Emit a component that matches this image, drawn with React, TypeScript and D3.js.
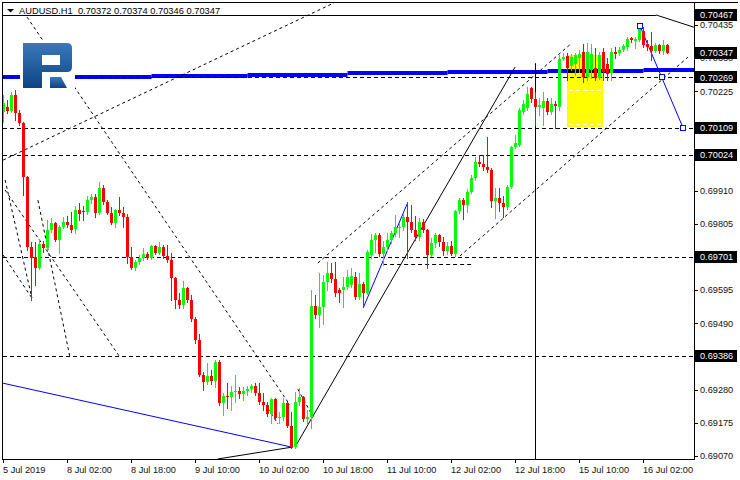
import { useEffect, useRef } from "react";
import * as d3 from "d3";

// AUDUSD H1 candles, prices in points (1 point = 0.00001)
const opens = [
  70159, 70175, 70162, 70213, 70156, 70124, 69953, 69731, 69699, 69665,
  69741, 69728, 69785, 69807, 69753, 69794, 69810, 69801, 69788, 69848,
  69845, 69842, 69880, 69890, 69839, 69918, 69874, 69839, 69807, 69848,
  69839, 69826, 69699, 69665, 69684, 69696, 69709, 69696, 69734, 69712,
  69731, 69703, 69690, 69633, 69563, 69547, 69601, 69563, 69503, 69436,
  69325, 69303, 69322, 69306, 69367, 69237, 69259, 69256, 69272, 69275,
  69266, 69275, 69281, 69291, 69269, 69240, 69231, 69202, 69250, 69190,
  69193, 69237, 69165, 69098, 69240, 69256, 69187, 69193, 69544, 69516,
  69541, 69620, 69649, 69630, 69595, 69595, 69604, 69611, 69636, 69573,
  69614, 69585, 69706, 69753, 69769, 69709, 69731, 69753, 69775, 69794,
  69794, 69826, 69810, 69785, 69763, 69810, 69785, 69706, 69744, 69769,
  69747, 69718, 69734, 69709, 69845, 69880, 69864, 69905, 69950, 70001,
  69994, 69985, 69975, 69877, 69886, 69870, 69858, 69921, 70048, 70054,
  70159, 70172, 70235, 70200, 70175, 70172, 70194, 70159, 70184, 70175,
  70327, 70337, 70305, 70311, 70330, 70349, 70270, 70292, 70299, 70267,
  70349, 70311, 70283, 70349, 70346, 70356, 70365, 70394, 70384, 70387,
  70416, 70375, 70368, 70352, 70371, 70352, 70372,
]
const highs = [
  70213, 70197, 70223, 70229, 70165, 70127, 69956, 69747, 69747, 69756,
  69750, 69817, 69823, 69810, 69801, 69826, 69829, 69842, 69861, 69870,
  69861, 69893, 69899, 69899, 69937, 69928, 69880, 69858, 69851, 69890,
  69858, 69836, 69731, 69690, 69706, 69728, 69715, 69737, 69737, 69747,
  69737, 69737, 69712, 69636, 69585, 69623, 69604, 69579, 69509, 69455,
  69335, 69363, 69341, 69373, 69373, 69269, 69300, 69291, 69325, 69288,
  69288, 69291, 69297, 69300, 69300, 69269, 69240, 69253, 69253, 69209,
  69253, 69240, 69209, 69272, 69285, 69259, 69215, 69595, 69579, 69649,
  69642, 69684, 69680, 69684, 69601, 69636, 69658, 69665, 69652, 69649,
  69620, 69722, 69772, 69775, 69775, 69750, 69775, 69782, 69832, 69807,
  69839, 69874, 69864, 69829, 69823, 69820, 69788, 69760, 69775, 69772,
  69763, 69747, 69750, 69848, 69886, 69886, 69915, 69959, 70017, 70023,
  70023, 70080, 69982, 69918, 69918, 69893, 69928, 70051, 70086, 70172,
  70197, 70238, 70238, 70223, 70203, 70223, 70203, 70203, 70194, 70340,
  70346, 70346, 70343, 70346, 70356, 70375, 70378, 70375, 70362, 70349,
  70362, 70330, 70362, 70365, 70365, 70375, 70397, 70397, 70397, 70432,
  70428, 70387, 70413, 70378, 70375, 70387, 70374,
]
const lows = [
  70127, 70156, 70159, 70134, 70118, 69896, 69722, 69563, 69611, 69662,
  69715, 69722, 69779, 69750, 69712, 69791, 69794, 69779, 69775, 69817,
  69817, 69836, 69870, 69826, 69836, 69867, 69836, 69804, 69794, 69832,
  69794, 69680, 69662, 69658, 69677, 69690, 69693, 69693, 69709, 69709,
  69696, 69684, 69563, 69538, 69538, 69538, 69557, 69496, 69427, 69322,
  69278, 69297, 69297, 69287, 69231, 69199, 69221, 69215, 69240, 69253,
  69247, 69262, 69272, 69262, 69234, 69215, 69196, 69174, 69184, 69174,
  69184, 69161, 69095, 69095, 69231, 69180, 69174, 69158, 69506, 69477,
  69487, 69595, 69620, 69576, 69557, 69541, 69598, 69604, 69566, 69566,
  69541, 69582, 69696, 69715, 69703, 69674, 69722, 69744, 69766, 69763,
  69785, 69696, 69779, 69753, 69753, 69779, 69665, 69703, 69731, 69734,
  69706, 69709, 69706, 69703, 69839, 69820, 69842, 69902, 69944, 69988,
  69975, 69969, 69858, 69823, 69845, 69826, 69852, 69918, 70045, 70051,
  70153, 70165, 70191, 70118, 70149, 70118, 70153, 70153, 70108, 70165,
  70324, 70261, 70292, 70276, 70286, 70254, 70261, 70267, 70261, 70264,
  70261, 70261, 70261, 70330, 70340, 70352, 70356, 70381, 70362, 70384,
  70365, 70356, 70324, 70349, 70346, 70343, 70346,
]
const closes = [
  70187, 70162, 70213, 70156, 70124, 69953, 69731, 69696, 69665, 69741,
  69728, 69785, 69807, 69753, 69794, 69810, 69801, 69785, 69848, 69836,
  69842, 69880, 69890, 69839, 69918, 69874, 69839, 69807, 69848, 69839,
  69826, 69699, 69665, 69684, 69696, 69709, 69696, 69734, 69712, 69731,
  69703, 69690, 69633, 69563, 69547, 69601, 69563, 69503, 69436, 69325,
  69303, 69322, 69306, 69367, 69237, 69259, 69256, 69272, 69275, 69266,
  69275, 69281, 69291, 69269, 69240, 69231, 69202, 69250, 69190, 69193,
  69237, 69165, 69098, 69240, 69256, 69187, 69193, 69544, 69516, 69541,
  69620, 69649, 69630, 69585, 69585, 69604, 69636, 69639, 69573, 69614,
  69585, 69715, 69753, 69769, 69709, 69731, 69753, 69775, 69794, 69795,
  69826, 69810, 69785, 69763, 69810, 69785, 69706, 69744, 69769, 69747,
  69718, 69734, 69709, 69845, 69880, 69864, 69905, 69950, 70001, 69994,
  69985, 69975, 69877, 69886, 69870, 69858, 69921, 70048, 70061, 70165,
  70184, 70216, 70200, 70175, 70181, 70194, 70159, 70184, 70178, 70327,
  70335, 70299, 70333, 70340, 70343, 70270, 70349, 70343, 70267, 70340,
  70286, 70280, 70349, 70343, 70356, 70368, 70390, 70387, 70390, 70422,
  70371, 70365, 70352, 70371, 70352, 70371, 70347,
]

const symbol = "AUDUSD.H1"
const timeLabels = ["5 Jul 2019", "8 Jul 02:00", "8 Jul 18:00", "9 Jul 10:00", "10 Jul 02:00", "10 Jul 18:00",
  "11 Jul 10:00", "12 Jul 02:00", "12 Jul 18:00", "15 Jul 10:00", "16 Jul 02:00"]
const barsPerLabel = 16

const priceTicks = [0.70435, 0.70330, 0.70225, 0.70120, 0.70015, 0.69910, 0.69805,
  0.69700, 0.69595, 0.69490, 0.69385, 0.69280, 0.69175, 0.69070]
const markedPrices = [0.70467, 0.70347, 0.70269, 0.70109, 0.70024, 0.69701, 0.69386]
const dashedLevels = [0.70269, 0.70109, 0.70024, 0.69701, 0.69386]
const solidLevels = [0.70467]
// short dashed level: from bar, to bar, price
const shortLevel = [94.9, 117.1, 0.69677]

// thick blue daily level: segment starts (bars) and levels
const pivotBars = [-1, 37, 61, 86, 111, 136, 160, 175]
const pivotLevels = [0.70271, 0.70274, 0.70278, 0.70282, 0.70285, 0.70289, 0.70292]

// trend lines: [bar0, price0, bar1, price1]
const dottedLines = [
  [5.9, 0.70460, 71.6, 0.69231],
  [-0.1, 0.70007, 83.1, 0.70508],
  [0.4, 0.69912, 29.1, 0.69383],
  [0.4, 0.69944, 7.1, 0.69570],
  [8.6, 0.69880, 16.6, 0.69383],
  [-0.1, 0.69706, 7.1, 0.69570],
  [66.1, 0.69221, 68.6, 0.69171],
  [73.6, 0.69281, 77.4, 0.69193],
  [78.6, 0.69681, 142.1, 0.70378],
  [114.1, 0.69703, 171.1, 0.70333],
]
const solidLines = [
  [53.6, 0.69060, 72.4, 0.69098],
  [72.9, 0.69098, 127.9, 0.70302],
  [163.1, 0.70467, 172.6, 0.70428],
]
const blueLines = [
  [-0.1, 0.69300, 71.9, 0.69098],
  [89.9, 0.69538, 100.9, 0.69868],
  [159.1, 0.70432, 169.9, 0.70109],
]
const blueMarks = [[159.1, 0.70432], [164.6, 0.70269], [169.9, 0.70109]]
const vLineBar = 133
const vLineTop = 0.70314
const boxBars = [140.9, 149.9]
const boxPrices = [0.70340, 0.70112]
const boxInnerLevels = [0.70229, 0.70121]

export default function App() {
  const svgRef = useRef<SVGSVGElement>(null)

  useEffect(() => {
    const svg = d3.select(svgRef.current).html(null)
    const font = '"Liberation Sans", Arial, sans-serif'
    const x = d3.scaleLinear().domain([0, 166]).range([3.5, 667.5])
    const y = d3.scaleLinear().domain([0.6907, 0.70435]).range([455.8, 25])
    const cy = (p: number) => Math.round(y(p)) + 0.5
    const fmt = (p: number) => p.toFixed(5)

    svg.append("rect").attr("width", 740).attr("height", 480).attr("fill", "#fff")

    const defs = svg.append("defs")
    defs.append("clipPath").attr("id", "plot-clip")
      .append("rect").attr("x", 3).attr("y", 3).attr("width", 691).attr("height", 456)
    const grad = defs.append("linearGradient").attr("id", "logo-grad")
      .attr("x1", 0).attr("y1", 0).attr("x2", 0).attr("y2", 1)
    grad.append("stop").attr("offset", 0).attr("stop-color", "#3a79bd")
    grad.append("stop").attr("offset", 1).attr("stop-color", "#0d4382")

    const plot = svg.append("g").attr("clip-path", "url(#plot-clip)")

    // yellow box
    plot.append("rect")
      .attr("x", Math.round(x(boxBars[0])))
      .attr("width", Math.round(x(boxBars[1]) - x(boxBars[0])))
      .attr("y", Math.round(y(boxPrices[0])))
      .attr("height", Math.round(y(boxPrices[1]) - y(boxPrices[0])))
      .attr("fill", "#ffff00")

    // thick blue daily level
    pivotLevels.forEach((lv, i) => {
      plot.append("line")
        .attr("x1", x(pivotBars[i])).attr("x2", x(pivotBars[i + 1]))
        .attr("y1", Math.round(y(lv))).attr("y2", Math.round(y(lv)))
        .attr("stroke", "#0000ff").attr("stroke-width", 4)
      const a = Math.max(pivotBars[i], boxBars[0])
      const b = Math.min(pivotBars[i + 1], boxBars[1])
      if (b > a) {
        plot.append("line")
          .attr("x1", Math.round(x(a))).attr("x2", Math.round(x(b)))
          .attr("y1", Math.round(y(lv))).attr("y2", Math.round(y(lv)))
          .attr("stroke", "#000").attr("stroke-width", 4)
      }
    })

    // horizontal levels
    dashedLevels.forEach(p => {
      plot.append("line").attr("x1", 3).attr("x2", 694).attr("y1", cy(p)).attr("y2", cy(p))
        .attr("stroke", "#000").attr("stroke-dasharray", "4,3")
    })
    solidLevels.forEach(p => {
      plot.append("line").attr("x1", 3).attr("x2", x(solidLines[2][0])).attr("y1", cy(p)).attr("y2", cy(p))
        .attr("stroke", "#000")
    })
    plot.append("line")
      .attr("x1", x(shortLevel[0])).attr("x2", x(shortLevel[1]))
      .attr("y1", cy(shortLevel[2])).attr("y2", cy(shortLevel[2]))
      .attr("stroke", "#000").attr("stroke-dasharray", "4,3")
    boxInnerLevels.forEach(p => {
      plot.append("line")
        .attr("x1", Math.round(x(boxBars[0])) + 2).attr("x2", Math.round(x(boxBars[1])) - 2)
        .attr("y1", cy(p)).attr("y2", cy(p))
        .attr("stroke", "#fff").attr("stroke-dasharray", "4,3")
    })

    // trend lines
    const drawLines = (lines: number[][], color: string, dash: string | null) => {
      lines.forEach(l => {
        plot.append("line")
          .attr("x1", x(l[0])).attr("y1", y(l[1])).attr("x2", x(l[2])).attr("y2", y(l[3]))
          .attr("stroke", color).attr("stroke-width", 1)
          .attr("stroke-dasharray", dash)
      })
    }
    drawLines(dottedLines, "#000", "3,3")
    drawLines(solidLines, "#000", null)
    drawLines(blueLines, "#0000ff", null)

    plot.append("line")
      .attr("x1", Math.floor(x(vLineBar)) + 0.5).attr("x2", Math.floor(x(vLineBar)) + 0.5)
      .attr("y1", y(vLineTop)).attr("y2", 459)
      .attr("stroke", "#000")

    // candles
    const candles = closes.map((c, i) => ({ i, o: opens[i] / 1e5, h: highs[i] / 1e5, l: lows[i] / 1e5, c: c / 1e5 }))
    const cg = plot.append("g")
    candles.forEach(d => {
      const col = d.c >= d.o ? "#00ff00" : "#ff0000"
      const cx = Math.floor(x(d.i)) + 0.5
      const top = Math.round(y(Math.max(d.o, d.c)))
      const bot = Math.round(y(Math.min(d.o, d.c)))
      cg.append("line").attr("x1", cx).attr("x2", cx)
        .attr("y1", Math.round(y(d.h))).attr("y2", Math.round(y(d.l)) + 1)
        .attr("stroke", col)
      cg.append("rect").attr("x", cx - 1.5).attr("width", 3)
        .attr("y", top).attr("height", Math.max(1, bot - top))
        .attr("fill", col)
    })

    // blue markers
    blueMarks.forEach(m => {
      plot.append("rect")
        .attr("x", Math.round(x(m[0])) - 2.5).attr("y", Math.round(y(m[1])) - 2.5)
        .attr("width", 5).attr("height", 5)
        .attr("fill", "#fff").attr("stroke", "#0000ff")
    })

    // logo
    const logo = svg.append("g")
    logo.append("rect").attr("x", 20).attr("y", 40).attr("width", 55).attr("height", 51).attr("fill", "#fff")
    logo.append("path")
      .attr("d", "M23,43 H67 Q72,43 72,48 V67 Q72,72 67,72 H42 V88 H23 Z M42,55 V65 H60 V55 Z")
      .attr("fill", "url(#logo-grad)").attr("fill-rule", "evenodd")
    logo.append("path")
      .attr("d", "M50,77 H61 L67,88 H50 Z")
      .attr("fill", "url(#logo-grad)")

    // frame
    svg.append("line").attr("x1", 2).attr("x2", 738).attr("y1", 2.5).attr("y2", 2.5).attr("stroke", "#000")
    svg.append("line").attr("x1", 2.5).attr("x2", 2.5).attr("y1", 2).attr("y2", 460).attr("stroke", "#000")
    svg.append("line").attr("x1", 2).attr("x2", 695).attr("y1", 459.5).attr("y2", 459.5).attr("stroke", "#000")
    svg.append("line").attr("x1", 694.5).attr("x2", 694.5).attr("y1", 2).attr("y2", 460).attr("stroke", "#000")

    // time axis
    timeLabels.forEach((t, j) => {
      const tx = Math.floor(x(j * barsPerLabel)) + 0.5
      svg.append("line").attr("x1", tx).attr("x2", tx).attr("y1", 459).attr("y2", 463).attr("stroke", "#000")
      svg.append("text").attr("x", tx - 0.5).attr("y", 472.5)
        .attr("font-family", font).attr("font-size", 9.2).attr("fill", "#111")
        .text(t)
    })

    // price axis
    priceTicks.forEach(p => {
      svg.append("line").attr("x1", 694).attr("x2", 698).attr("y1", cy(p)).attr("y2", cy(p)).attr("stroke", "#000")
      svg.append("text").attr("x", 700).attr("y", y(p) + 3.3)
        .attr("font-family", font).attr("font-size", 9.2).attr("fill", "#111")
        .text(fmt(p))
    })
    markedPrices.forEach(p => {
      const yy = Math.round(y(p))
      svg.append("rect").attr("x", 695).attr("y", yy - 6).attr("width", 42).attr("height", 12).attr("fill", "#000")
      svg.append("text").attr("x", 700).attr("y", y(p) + 3.3)
        .attr("font-family", font).attr("font-size", 9.2).attr("fill", "#fff")
        .text(fmt(p))
    })

    // header
    const last = candles[candles.length - 1]
    svg.append("path").attr("d", "M7,9 H14 L10.5,12.5 Z").attr("fill", "#000")
    svg.append("text").attr("x", 19).attr("y", 13.5)
      .attr("font-family", font).attr("font-size", 9.3).attr("fill", "#000")
      .style("white-space", "pre")
      .text(`${symbol}  ${fmt(last.o)} ${fmt(last.h)} ${fmt(last.l)} ${fmt(last.c)}`)
  }, [])

  return (
    <svg ref={svgRef} width={740} height={480}
      style={{ position: "absolute", left: 0, top: 0, display: "block" }} />
  )
}
